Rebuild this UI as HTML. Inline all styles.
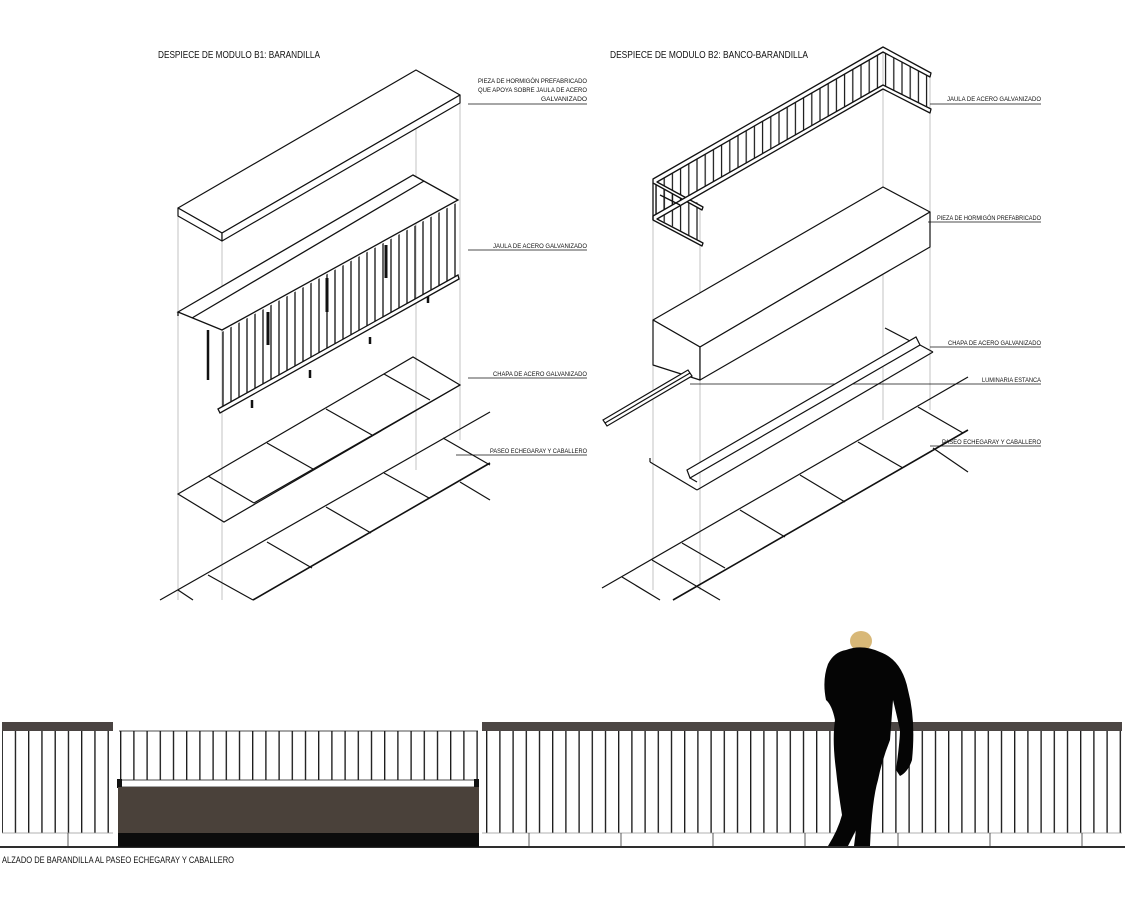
<!DOCTYPE html>
<html><head><meta charset="utf-8"><style>
html,body{margin:0;padding:0;background:#fff;}
svg{display:block;}
text{font-family:"Liberation Sans",sans-serif;fill:#111;}
.t{font-size:10px;}
.s{font-size:6.5px;}
</style></head><body>
<svg width="1125" height="900" viewBox="0 0 1125 900" xmlns="http://www.w3.org/2000/svg">
<defs>
<pattern id="ib" patternUnits="userSpaceOnUse" x="222" y="0" width="8" height="900"><line x1="1" y1="0" x2="1" y2="900" stroke="#111" stroke-width="1.3"/></pattern>
<pattern id="ib2" patternUnits="userSpaceOnUse" x="655" y="0" width="8.2" height="900"><line x1="1" y1="0" x2="1" y2="900" stroke="#111" stroke-width="1.2"/></pattern>
<pattern id="eb" patternUnits="userSpaceOnUse" x="1.5" y="0" width="13.25" height="900"><line x1="0.7" y1="0" x2="0.7" y2="900" stroke="#111" stroke-width="1.3"/></pattern>
<pattern id="eb2" patternUnits="userSpaceOnUse" x="120" y="0" width="13.2" height="900"><line x1="0.7" y1="0" x2="0.7" y2="900" stroke="#111" stroke-width="1.3"/></pattern>
<pattern id="eb3" patternUnits="userSpaceOnUse" x="486" y="0" width="13.2" height="900"><line x1="0.7" y1="0" x2="0.7" y2="900" stroke="#111" stroke-width="1.3"/></pattern>
</defs>

<!-- titles -->
<text class="t" x="158" y="58" textLength="162" lengthAdjust="spacingAndGlyphs">DESPIECE DE MODULO B1:  BARANDILLA</text>
<text class="t" x="610" y="58" textLength="198" lengthAdjust="spacingAndGlyphs">DESPIECE DE MODULO B2:  BANCO-BARANDILLA</text>

<!-- guide lines -->
<g stroke="#aaa" stroke-width="0.7">
<line x1="178" y1="216" x2="178" y2="600"/><line x1="222" y1="241" x2="222" y2="600"/>
<line x1="416" y1="70" x2="416" y2="470"/><line x1="460" y1="103" x2="460" y2="440"/>
<line x1="653" y1="180" x2="653" y2="590"/><line x1="700" y1="205" x2="700" y2="590"/>
<line x1="883" y1="50" x2="883" y2="420"/><line x1="930" y1="75" x2="930" y2="410"/>
</g>

<!-- B1 slab -->
<g fill="#fff" stroke="#111" stroke-width="1.2" stroke-linejoin="round">
<polygon points="178,208 416,70 460,95 222,233"/>
<polygon points="178,208 222,233 222,241 178,216"/>
<polygon points="222,233 460,95 460,103 222,241"/>
</g>

<!-- B1 cage -->
<polygon points="222,332 458,202 458,278 222,410" fill="url(#ib)"/>
<g stroke="#111" fill="none" stroke-width="1.3">
<line x1="208" y1="330" x2="208" y2="380" stroke-width="2.5"/>
<line x1="252" y1="400" x2="252" y2="408" stroke-width="2.5"/>
<line x1="310" y1="370" x2="310" y2="378" stroke-width="2.5"/>
<line x1="370" y1="337" x2="370" y2="344" stroke-width="2.5"/>
<line x1="428" y1="295" x2="428" y2="303" stroke-width="2.5"/>
<line x1="268" y1="312" x2="268" y2="345" stroke-width="3"/>
<line x1="327" y1="278" x2="327" y2="312" stroke-width="3"/>
<line x1="386" y1="245" x2="386" y2="278" stroke-width="3"/>
<polygon points="178,312 413,175 458,200 222,330" fill="#fff"/>
<line x1="192" y1="318" x2="424" y2="181"/>
<line x1="178" y1="312" x2="178" y2="316"/>
<polygon points="218,409 458,275 459,279 220,413" fill="#fff"/>
</g>

<!-- B1 chapa -->
<g stroke="#111" fill="none" stroke-width="1.2">
<polygon points="178,494 413,357 460,385 224,522"/>
<line x1="254" y1="503" x2="460" y2="385"/>
<line x1="208" y1="476" x2="254" y2="503"/>
<line x1="267" y1="443" x2="313" y2="469"/>
<line x1="326" y1="409" x2="372" y2="435"/>
<line x1="384" y1="374" x2="430" y2="400"/>
</g>
<!-- B1 paseo -->
<g stroke="#111" fill="none" stroke-width="1.2">
<line x1="160" y1="600" x2="490" y2="412"/>
<line x1="253" y1="600" x2="490" y2="463" stroke-width="1.6"/>
<line x1="178" y1="590" x2="193" y2="600"/>
<line x1="208" y1="575" x2="253" y2="600"/>
<line x1="267" y1="542" x2="312" y2="568"/>
<line x1="326" y1="507" x2="371" y2="533"/>
<line x1="384" y1="473" x2="429" y2="498"/>
<line x1="443" y1="438" x2="490" y2="465"/>
<line x1="460" y1="482" x2="490" y2="500"/>
</g>

<!-- B1 labels -->
<text class="s" x="478" y="83" textLength="109" lengthAdjust="spacingAndGlyphs">PIEZA DE HORMIGÓN PREFABRICADO</text>
<text class="s" x="478" y="92" textLength="109" lengthAdjust="spacingAndGlyphs">QUE APOYA SOBRE JAULA DE ACERO</text>
<text class="s" x="541" y="101" textLength="46" lengthAdjust="spacingAndGlyphs">GALVANIZADO</text>
<text class="s" x="493" y="248" textLength="94" lengthAdjust="spacingAndGlyphs">JAULA DE ACERO GALVANIZADO</text>
<text class="s" x="493" y="376" textLength="94" lengthAdjust="spacingAndGlyphs">CHAPA DE ACERO GALVANIZADO</text>
<text class="s" x="490" y="453" textLength="97" lengthAdjust="spacingAndGlyphs">PASEO ECHEGARAY Y CABALLERO</text>
<g stroke="#111" stroke-width="0.8">
<line x1="468" y1="104" x2="587" y2="104"/>
<line x1="468" y1="250" x2="587" y2="250"/>
<line x1="468" y1="378" x2="587" y2="378"/>
<line x1="456" y1="455" x2="587" y2="455"/>
</g>

<!-- B2 cage -->
<polygon points="655,180 883,50 883,87 655,217" fill="url(#ib2)"/>
<polygon points="883,50 930,75 930,110 883,87" fill="url(#ib2)"/>
<polygon points="655,180 702,205 702,242 655,217" fill="url(#ib2)"/>
<g stroke="#111" fill="none" stroke-width="1.3" stroke-linejoin="round">
<polygon points="653,179 883,47 931,73 930,77 883,52 657,182 703,207 702,210 653,183" fill="#fff"/>
<polygon points="653,216 883,85 931,109 930,113 883,89 657,219 703,243 702,246 653,220" fill="#fff"/>
<line x1="653" y1="183" x2="653" y2="220"/>
<line x1="660" y1="195" x2="680" y2="205"/>
</g>

<!-- B2 block -->
<g stroke="#111" fill="#fff" stroke-width="1.2" stroke-linejoin="round">
<polygon points="653,320 883,187 930,212 700,347"/>
<polygon points="653,320 700,347 700,380 653,365"/>
<polygon points="700,347 930,212 930,247 700,380"/>
</g>

<!-- luminaria -->
<g stroke="#111" fill="none" stroke-width="1.2">
<polygon points="603,420 688,370 692,376 607,426" fill="#fff"/>
<line x1="605" y1="423" x2="690" y2="373"/>
<line x1="690" y1="384" x2="1041" y2="384" stroke-width="0.8"/>
</g>
<!-- chapa B2 -->
<g stroke="#111" fill="none" stroke-width="1.2">
<polygon points="687,470 916,337 920,345 690,478" fill="#fff"/>
<line x1="690" y1="478" x2="697" y2="482"/>
<line x1="650" y1="462" x2="697" y2="490"/>
<line x1="697" y1="490" x2="933" y2="352"/>
<line x1="920" y1="345" x2="933" y2="352"/>
<line x1="885" y1="328" x2="910" y2="341"/>
<line x1="650" y1="462" x2="650" y2="458"/>
</g>
<!-- B2 paseo -->
<g stroke="#111" fill="none" stroke-width="1.2">
<line x1="602" y1="588" x2="968" y2="377"/>
<line x1="673" y1="600" x2="968" y2="430" stroke-width="1.6"/>
<line x1="622" y1="577" x2="660" y2="600"/>
<line x1="652" y1="560" x2="720" y2="600"/>
<line x1="682" y1="543" x2="725" y2="568"/>
<line x1="740" y1="510" x2="785" y2="537"/>
<line x1="800" y1="475" x2="845" y2="502"/>
<line x1="858" y1="442" x2="903" y2="468"/>
<line x1="918" y1="407" x2="963" y2="433"/>
<line x1="933" y1="448" x2="968" y2="472"/>
</g>
<!-- B2 labels -->
<text class="s" x="947" y="101" textLength="94" lengthAdjust="spacingAndGlyphs">JAULA DE ACERO GALVANIZADO</text>
<text class="s" x="937" y="220" textLength="104" lengthAdjust="spacingAndGlyphs">PIEZA DE HORMIGÓN PREFABRICADO</text>
<text class="s" x="948" y="345" textLength="93" lengthAdjust="spacingAndGlyphs">CHAPA DE ACERO GALVANIZADO</text>
<text class="s" x="982" y="382" textLength="59" lengthAdjust="spacingAndGlyphs">LUMINARIA ESTANCA</text>
<text class="s" x="942" y="444" textLength="99" lengthAdjust="spacingAndGlyphs">PASEO ECHEGARAY Y CABALLERO</text>
<g stroke="#111" stroke-width="0.8">
<line x1="930" y1="104" x2="1041" y2="104"/>
<line x1="928" y1="222" x2="1041" y2="222"/>
<line x1="930" y1="347" x2="1041" y2="347"/>
<line x1="930" y1="446" x2="1041" y2="446"/>
</g>

<!-- ELEVATION -->
<rect x="2" y="722" width="111" height="9" fill="#4a4442"/>
<rect x="2" y="731" width="111" height="102" fill="url(#eb)"/>
<line x1="2" y1="833" x2="113" y2="833" stroke="#999" stroke-width="0.8"/>
<line x1="68" y1="833" x2="68" y2="846" stroke="#333" stroke-width="0.8"/>
<line x1="119" y1="731" x2="478" y2="731" stroke="#111" stroke-width="0.8"/>
<rect x="120" y="731" width="358" height="49" fill="url(#eb2)"/>
<g stroke="#111" stroke-width="1.3">
<line x1="160" y1="780" x2="160" y2="788"/><line x1="252" y1="780" x2="252" y2="788"/>
<line x1="344" y1="780" x2="344" y2="788"/><line x1="437" y1="780" x2="437" y2="788"/>
</g>
<rect x="119" y="780" width="359" height="7" fill="#fff" stroke="#222" stroke-width="0.8"/>
<rect x="117" y="779" width="5" height="9" fill="#111"/><rect x="474" y="779" width="5" height="9" fill="#111"/>
<rect x="118" y="787" width="361" height="46" fill="#4a413a"/>
<rect x="118" y="833" width="361" height="14" fill="#0c0c0c"/>
<rect x="482" y="722" width="640" height="9" fill="#4c4644"/>
<rect x="484" y="731" width="638" height="102" fill="url(#eb3)"/>
<line x1="482" y1="833" x2="1122" y2="833" stroke="#999" stroke-width="0.8"/>
<g stroke="#333" stroke-width="0.8">
<line x1="529" y1="833" x2="529" y2="846"/><line x1="621" y1="833" x2="621" y2="846"/>
<line x1="713" y1="833" x2="713" y2="846"/><line x1="805" y1="833" x2="805" y2="846"/>
<line x1="898" y1="833" x2="898" y2="846"/><line x1="990" y1="833" x2="990" y2="846"/>
<line x1="1082" y1="833" x2="1082" y2="846"/>
</g>
<line x1="0" y1="847" x2="1125" y2="847" stroke="#111" stroke-width="1.8"/>

<!-- person -->
<ellipse cx="861" cy="641" rx="11" ry="10" fill="#d8b878"/>
<path d="M846,650 Q862,644 880,652 Q902,660 908,690 Q916,720 912,760 Q908,772 900,776 L896,770 Q900,740 900,730 Q896,712 893,700 L890,740 Q882,760 878,780 Q872,800 870,846 L854,846 L856,830 L848,846 L828,846 Q838,830 842,815 Q838,790 836,770 Q832,740 835,720 Q832,705 826,700 Q822,680 828,664 Q834,652 846,650 Z" fill="#050505"/>

<text x="2" y="863" style="font-size:9px" textLength="232" lengthAdjust="spacingAndGlyphs">ALZADO DE BARANDILLA AL PASEO ECHEGARAY Y CABALLERO</text>
</svg>
</body></html>
